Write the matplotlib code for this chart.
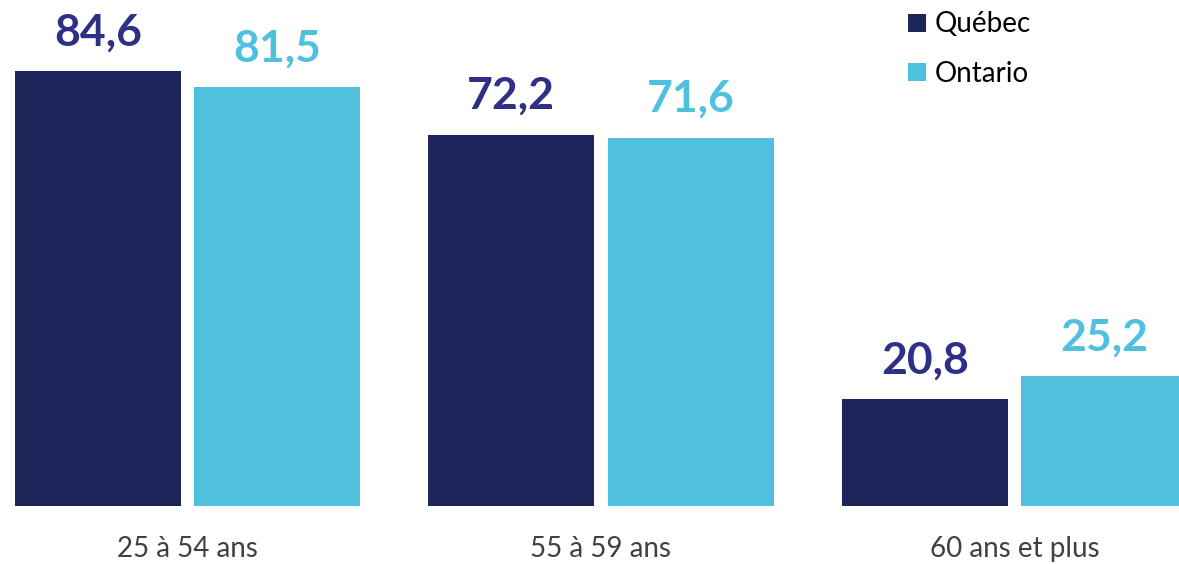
import matplotlib
matplotlib.use("Agg")
import matplotlib.pyplot as plt
from matplotlib.patches import Patch
import numpy as np

categories = ["25 à 54 ans", "55 à 59 ans", "60 ans et plus"]
quebec = [84.6, 72.2, 20.8]
ontario = [81.5, 71.6, 25.2]
series_names = ["Québec", "Ontario"]

bar_colors = ["#1c2559", "#4fc0de"]
label_colors = ["#2e3085", "#4fc0de"]
FONT = ["Lato", "DejaVu Sans"]

fig = plt.figure(figsize=(11.79, 5.64), dpi=100)
ax = fig.add_axes([0, 0.1028, 1, 0.8972])

x = np.arange(len(categories))
w = 0.401
off = 0.217
for vals, dx, bc, lc in [(quebec, -off, bar_colors[0], label_colors[0]),
                          (ontario, off, bar_colors[1], label_colors[1])]:
    bars = ax.bar(x + dx, vals, width=w, color=bc)
    for xi, v in zip(x + dx, vals):
        ax.annotate(f"{v:.1f}".replace(".", ","), (xi, v), xytext=(0, 18.5),
                    textcoords="offset points", ha="center", va="baseline",
                    fontsize=32, fontweight="bold", color=lc, family=FONT)

ax.set_xlim(-0.4534, 2.3978)
ax.set_ylim(0, 98.4)
ax.axis("off")

for xi, c in zip(x, categories):
    ax.annotate(c, (xi, 0), xytext=(0, -37), textcoords="offset points",
                ha="center", va="baseline", fontsize=20, color="#404040",
                family=FONT, annotation_clip=False)

handles = [Patch(facecolor=bar_colors[0]), Patch(facecolor=bar_colors[1])]
fig.legend(handles, series_names, loc="upper left",
           bbox_to_anchor=(889 / 1179, 1 + 8 / 564), frameon=False,
           prop={"family": FONT, "size": 20}, handlelength=0.62,
           handleheight=0.62, handletextpad=0.32, labelspacing=0.85,
           borderpad=0.2, labelcolor="#000000")

fig.savefig("out.png", dpi=100)
